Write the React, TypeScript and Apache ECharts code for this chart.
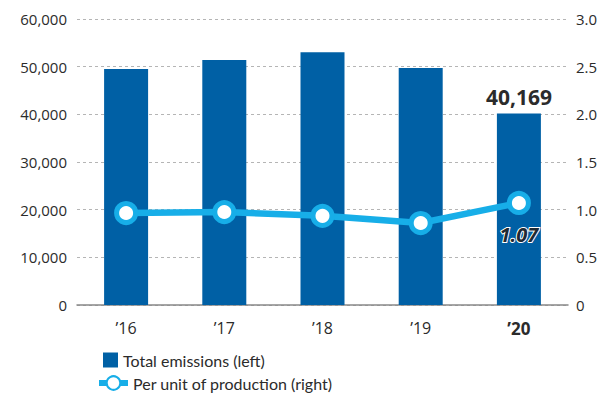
import React, { useEffect, useRef } from "react";
import * as echarts from "echarts";

const years = ["’16", "’17", "’18", "’19", "’20"];
const totalEmissions = [49500, 51400, 53000, 49700, 40169];
const perUnit = [0.965, 0.975, 0.935, 0.86, 1.07];
const leftTicks = { min: 0, max: 60000, interval: 10000 };
const rightTicks = { min: 0, max: 3, interval: 0.5 };

const FONT = "'Open Sans', 'Noto Sans', sans-serif";
const LEGEND_FONT = "Lato, 'Open Sans', sans-serif";
const TEXT = "#2b2b2b";
const BAR = "#0060a5";
const LINE = "#17aee8";

export default function App() {
  const ref = useRef<HTMLDivElement>(null);

  useEffect(() => {
    if (!ref.current) return;
    const chart = echarts.init(ref.current, null, { renderer: "svg" });
    const last = years.length - 1;
    chart.setOption({
      animation: false,
      textStyle: { fontFamily: FONT },
      grid: { left: 77, right: 40, top: 19, bottom: 90 },
      legend: [
        {
          data: [{ name: "Total emissions (left)", icon: "rect" }],
          left: 98,
          top: 347,
          itemWidth: 15,
          itemHeight: 15,
          itemGap: 8,
          textStyle: { fontSize: 16, color: TEXT, fontFamily: LEGEND_FONT },
        },
        {
          data: ["Per unit of production (right)"],
          left: 91,
          top: 370,
          itemWidth: 29,
          itemHeight: 17,
          itemGap: 8,
          lineStyle: { width: 6 },
          textStyle: { fontSize: 16, color: TEXT, fontFamily: LEGEND_FONT },
        },
      ],
      xAxis: {
        type: "category",
        data: years,
        axisTick: { show: false },
        axisLine: { lineStyle: { color: "#888", width: 1.5 } },
        axisLabel: {
          margin: 15,
          fontSize: 16,
          color: TEXT,
          fontFamily: FONT,
          formatter: (v: string, i: number) => (i === last ? `{b|${v}}` : v),
          rich: { b: { fontWeight: "bold", fontSize: 17, color: TEXT, fontFamily: FONT } },
        },
      },
      yAxis: [
        {
          type: "value",
          ...leftTicks,
          axisLine: { show: false },
          axisTick: { show: false },
          splitLine: { lineStyle: { color: "#b5b5b5", type: [3, 3] } },
          axisLabel: {
            margin: 10,
            fontSize: 15,
            color: TEXT,
            fontFamily: FONT,
            formatter: (v: number) => v.toLocaleString("en-US"),
          },
        },
        {
          type: "value",
          ...rightTicks,
          axisLine: { show: false },
          axisTick: { show: false },
          splitLine: { show: false },
          axisLabel: {
            margin: 8,
            fontSize: 15,
            color: TEXT,
            fontFamily: FONT,
            formatter: (v: number) => (v === 0 ? "0" : v.toFixed(1)),
          },
        },
      ],
      series: [
        {
          name: "Total emissions (left)",
          type: "bar",
          yAxisIndex: 0,
          barWidth: 44,
          itemStyle: { color: BAR },
          data: totalEmissions.map((v, i) => ({
            value: v,
            label:
              i === last
                ? {
                    show: true,
                    position: "top",
                    distance: 6,
                    fontSize: 21,
                    fontWeight: "bold",
                    color: TEXT,
                    fontFamily: FONT,
                    formatter: (p: any) => p.value.toLocaleString("en-US"),
                  }
                : { show: false },
          })),
        },
        {
          name: "Per unit of production (right)",
          type: "line",
          yAxisIndex: 1,
          symbol: "circle",
          symbolSize: 19,
          lineStyle: { color: LINE, width: 6.5 },
          itemStyle: { color: "#fff", borderColor: LINE, borderWidth: 5 },
          z: 3,
          data: perUnit.map((v, i) => ({
            value: v,
            label:
              i === last
                ? {
                    show: true,
                    position: "bottom",
                    distance: 10,
                    fontSize: 20,
                    fontWeight: "bold",
                    fontStyle: "italic",
                    color: "#1f2a33",
                    textBorderColor: "#ffffff",
                    textBorderWidth: 2,
                    fontFamily: FONT,
                    formatter: (p: any) => p.value.toFixed(2),
                  }
                : { show: false },
          })),
        },
      ],
    });
    return () => chart.dispose();
  }, []);

  return <div ref={ref} style={{ width: 608, height: 395, position: "absolute", left: 0, top: 0 }} />;
}
